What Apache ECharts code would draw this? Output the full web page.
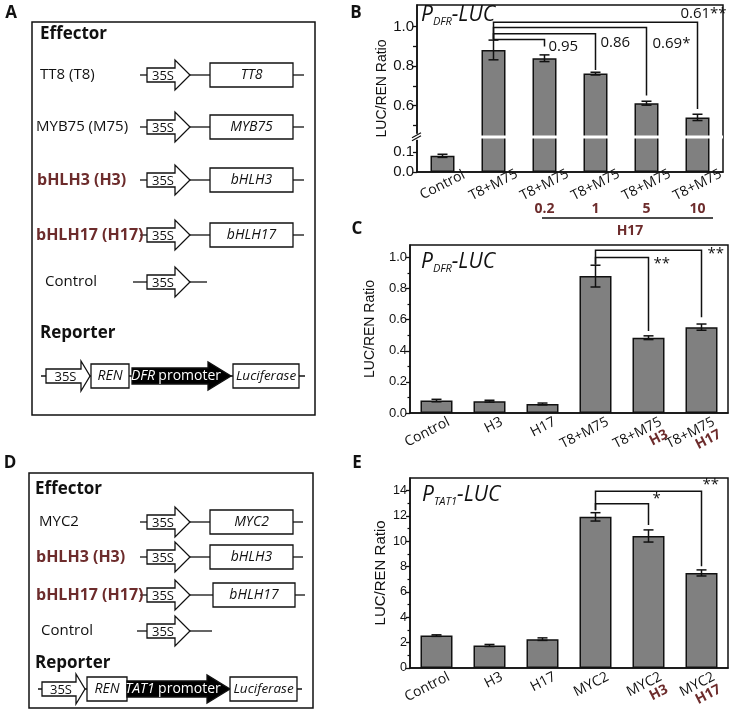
<!DOCTYPE html>
<html><head><meta charset="utf-8">
<script src="https://cdn.jsdelivr.net/npm/echarts@6/dist/echarts.min.js"></script>
<style>html,body{margin:0;padding:0;background:#fff}#c{width:735px;height:713px}</style>
</head><body><div id="c"></div>
<script>
const RED = '#6d2c2c';
const INK = '#111';
const SANS = "'Open Sans', 'DejaVu Sans', sans-serif";
const ARIAL = "'Liberation Sans', Arial, sans-serif";

// ---------- Panel B data ----------
const B_CATEGORIES = ['Control', 'T8+M75', 'T8+M75', 'T8+M75', 'T8+M75', 'T8+M75'];
const B_DOSE_LABELS = ['', '', '0.2', '1', '5', '10'];
const B_VALUES = [0.082, 0.882, 0.840, 0.762, 0.612, 0.540];
const B_ERRORS = [0.008, 0.050, 0.017, 0.007, 0.010, 0.016];
const B_Y_LABELS = [0, 0.1, 0.6, 0.8, 1.0];
const B_Y_TICKS = [0, 0.1, 0.5, 0.6, 0.7, 0.8, 0.9, 1.0];
const B_BREAK = [0.17, 0.45];
// [fromIndex, toIndex, bracketLevel, fromEnd, toEnd, text]
const B_BRACKETS = [
  [1, 2, 0.935, 0.935, 0.899, '0.95'],
  [1, 3, 0.964, 0.935, 0.780, '0.86'],
  [1, 4, 0.996, 0.935, 0.651, '0.69*'],
  [1, 5, 1.022, 0.935, 0.583, '0.61**']
];

// ---------- Panel C data ----------
const C_CATEGORIES = ['Control', 'H3', 'H17', 'T8+M75', 'T8+M75', 'T8+M75'];
const C_SUBLABELS = ['', '', '', '', 'H3', 'H17'];
const C_VALUES = [0.080, 0.076, 0.058, 0.880, 0.484, 0.552];
const C_ERRORS = [0.008, 0.006, 0.006, 0.070, 0.012, 0.020];
const C_Y_LABELS = [0, 0.2, 0.4, 0.6, 0.8, 1.0];
const C_BRACKETS = [
  [3, 4, 1.000, 0.955, 0.527, '**'],
  [3, 5, 1.047, 0.955, 0.615, '**']
];

// ---------- Panel E data ----------
const E_CATEGORIES = ['Control', 'H3', 'H17', 'MYC2', 'MYC2', 'MYC2'];
const E_SUBLABELS = ['', '', '', '', 'H3', 'H17'];
const E_VALUES = [2.55, 1.77, 2.27, 11.93, 10.42, 7.50];
const E_ERRORS = [0.06, 0.08, 0.10, 0.33, 0.48, 0.24];
const E_Y_LABELS = [0, 2, 4, 6, 8, 10, 12, 14];
const E_BRACKETS = [
  [3, 4, 12.97, 12.45, 11.28, '*'],
  [3, 5, 13.95, 12.45, 8.03, '**']
];

// label placement (layout only)
const B_LABEL_LAYOUT = [
  {dx: 4, dy: 0, align: 'left', va: 'top'},
  {dx: 5, dy: 1, align: 'left', va: 'top'},
  {dx: 6, dy: 9, align: 'left', va: 'top'},
  {dx: 6, dy: -1, align: 'center', va: 'bottom'}
];
const C_LABEL_LAYOUT = [
  {dx: 5, dy: -1, align: 'left', va: 'top'},
  {dx: 6, dy: -4, align: 'left', va: 'top'}
];
const E_LABEL_LAYOUT = [
  {dx: 4, dy: -12, align: 'left', va: 'top'},
  {dx: 1, dy: -14, align: 'left', va: 'top'}
];

function errorData(values, errors) {
  return values.map((v, i) => [i, v - errors[i], v + errors[i]]);
}
function errorRender(params, api) {
  const x = api.value(0);
  const lo = api.coord([x, api.value(1)]);
  const hi = api.coord([x, api.value(2)]);
  const w = 5;
  const st = {stroke: INK, lineWidth: 1.5};
  return {type: 'group', children: [
    {type: 'line', shape: {x1: hi[0], y1: hi[1], x2: lo[0], y2: lo[1]}, style: st},
    {type: 'line', shape: {x1: hi[0] - w, y1: hi[1], x2: hi[0] + w, y2: hi[1]}, style: st},
    {type: 'line', shape: {x1: lo[0] - w, y1: lo[1], x2: lo[0] + w, y2: lo[1]}, style: st}
  ]};
}
function bracketRender(brackets, layout, fontSize) {
  return function (params, api) {
    const k = params.dataIndex;
    const b = brackets[k];
    const a = api.coord([b[0], b[3]]);
    const p1 = api.coord([b[0], b[2]]);
    const p2 = api.coord([b[1], b[2]]);
    const c = api.coord([b[1], b[4]]);
    const L = layout[k];
    return {type: 'group', children: [
      {type: 'polyline', shape: {points: [a, p1, p2, c]}, style: {stroke: INK, lineWidth: 1.5, fill: null}},
      {type: 'text', x: c[0] + L.dx, y: p2[1] + L.dy,
       style: {text: b[5], fontSize: fontSize, fontFamily: SANS, fill: INK, align: L.align, verticalAlign: L.va}}
    ]};
  };
}
function bracketData(brackets) {
  return brackets.map(b => [b[0], b[1], b[2], b[3], b[4]]);
}

function catAxis(gridIndex, data, subs, centered) {
  const label = centered ? {
      interval: 0, rotate: 27, margin: 13, align: 'center', verticalAlign: 'middle',
      fontFamily: SANS, fontSize: 14, color: INK
    } : {
      interval: 0, rotate: 27, margin: 6, align: 'right', verticalAlign: 'top', padding: [0, -10, 0, 0],
      fontFamily: SANS, fontSize: 14, color: INK,
      formatter: function (v, i) {
        return subs && subs[i] ? '{m|' + v + '}\n{r|' + subs[i] + '}' : '{m|' + v + '}';
      },
      rich: {
        m: {fontFamily: SANS, fontSize: 14, color: INK, lineHeight: 15},
        r: {fontFamily: SANS, fontSize: 14, fontWeight: 'bold', color: RED, align: 'right', lineHeight: 13}
      }
    };
  return {
    type: 'category', gridIndex: gridIndex, data: data,
    axisLine: {lineStyle: {color: INK, width: 1.5}},
    axisTick: {show: false},
    axisLabel: label
  };
}

function valAxis(gridIndex, opt) {
  return Object.assign({
    type: 'value', gridIndex: gridIndex, min: 0,
    splitLine: {show: false},
    axisLine: {show: true, lineStyle: {color: INK, width: 1.5}},
    nameLocation: 'middle',
    nameTextStyle: {fontFamily: ARIAL, fontSize: 14, color: INK}
  }, opt);
}

function barSeries(xi, yi, values, width) {
  return {
    type: 'bar', xAxisIndex: xi, yAxisIndex: yi, data: values, barWidth: width,
    itemStyle: {color: '#808080', borderColor: INK, borderWidth: 1.5}, z: 3
  };
}
function errSeries(xi, yi, values, errors) {
  return {type: 'custom', xAxisIndex: xi, yAxisIndex: yi, data: errorData(values, errors),
    encode: {x: 0, y: [1, 2]}, renderItem: errorRender, z: 5, silent: true};
}
function brSeries(xi, yi, brackets, layout) {
  return {type: 'custom', xAxisIndex: xi, yAxisIndex: yi, data: bracketData(brackets),
    encode: {x: [0, 1], y: [2, 3, 4]}, renderItem: bracketRender(brackets, layout, 15), z: 6, silent: true, clip: false};
}

// ---------- Schematic helpers ----------
function lineEl(x1, y1, x2, y2, w) {
  return {type: 'line', shape: {x1, y1, x2, y2}, style: {stroke: INK, lineWidth: w || 1.3}};
}
function arrowEl(x0, xh, xt, cy, hb, hh, fill) {
  return {type: 'polygon', shape: {points: [[x0, cy - hb], [xh, cy - hb], [xh, cy - hh], [xt, cy], [xh, cy + hh], [xh, cy + hb], [x0, cy + hb]]},
    style: {fill: fill, stroke: INK, lineWidth: 1.3}};
}
function rectEl(x1, y1, x2, y2) {
  return {type: 'rect', shape: {x: x1, y: y1, width: x2 - x1, height: y2 - y1}, style: {fill: '#fff', stroke: INK, lineWidth: 1.3}};
}
function textEl(x, y, text, opt) {
  return {type: 'text', x: x, y: y, style: Object.assign({text: text, fontFamily: SANS, fontSize: 15, fill: INK, align: 'left', verticalAlign: 'middle'}, opt || {})};
}
function s35(x0, xh, xt, cy) {
  return [arrowEl(x0, xh, xt, cy, 7, 15, '#fff'), textEl((x0 + xh) / 2 + 2, cy + 1, '35S', {align: 'center', fontSize: 13})];
}
function effectorRow(cy, label, labelX, red, gene, bx1, bx2, tail) {
  const els = [lineEl(140, cy, 147, cy), lineEl(190, cy, bx1, cy), lineEl(bx2, cy, tail, cy)];
  els.push(...s35(147, 175, 190, cy));
  els.push(rectEl(bx1, cy - 12, bx2, cy + 12));
  els.push(textEl((bx1 + bx2) / 2, cy, gene, {align: 'center', fontStyle: 'italic', fontSize: 14}));
  els.push(textEl(labelX, cy, label, red ? {fill: RED, fontWeight: 'bold', fontSize: 16} : {}));
  return els;
}
function controlRow(cy, labelX, l0, tail) {
  const els = [lineEl(l0, cy, 147, cy), lineEl(190, cy, tail, cy)];
  els.push(...s35(147, 175, 190, cy));
  els.push(textEl(labelX, cy, 'Control'));
  return els;
}
function reporterRow(cy, x, promoterName) {
  const els = [lineEl(x.l0, cy, x.l1, cy)];
  els.push(...s35(x.a0, x.ah, x.at, cy));
  els.push(rectEl(x.r0, cy - 12, x.r1, cy + 12));
  els.push(textEl((x.r0 + x.r1) / 2, cy, 'REN', {align: 'center', fontStyle: 'italic', fontSize: 14}));
  els.push(arrowEl(x.p0, x.ph, x.pt, cy, 8, 14, '#000'));
  els.push({type: 'text', x: (x.p0 + x.ph) / 2 + 6, y: cy, style: {
    text: '{i|' + promoterName + '} {n|promoter}', align: 'center', verticalAlign: 'middle',
    rich: {i: {fontFamily: SANS, fontStyle: 'italic', fontSize: 14, fill: '#fff', color: '#fff'},
           n: {fontFamily: SANS, fontSize: 14, fill: '#fff', color: '#fff'}}}});
  els.push(rectEl(x.u0, cy - 12, x.u1, cy + 12));
  els.push(textEl((x.u0 + x.u1) / 2, cy, 'Luciferase', {align: 'center', fontStyle: 'italic', fontSize: 13.5}));
  return els;
}

const graphics = [];
// Panel letters
[['A', 11, 13], ['B', 356, 13], ['C', 357, 229], ['D', 10, 463], ['E', 357, 463]].forEach(p => {
  graphics.push(textEl(p[1], p[2], p[0], {fontFamily: SANS, fontWeight: 'bold', fontSize: 17, align: 'center'}));
});
// Panel A
graphics.push({type: 'rect', shape: {x: 32, y: 22, width: 283, height: 393}, style: {fill: 'none', stroke: INK, lineWidth: 1.5}});
graphics.push(textEl(40, 34, 'Effector', {fontWeight: 'bold', fontSize: 17}));
graphics.push(...effectorRow(75, 'TT8 (T8)', 40, false, 'TT8', 210, 293, 304));
graphics.push(...effectorRow(127, 'MYB75 (M75)', 36, false, 'MYB75', 210, 293, 304));
graphics.push(...effectorRow(180, 'bHLH3 (H3)', 37, true, 'bHLH3', 210, 293, 304));
graphics.push(...effectorRow(235, 'bHLH17 (H17)', 36, true, 'bHLH17', 210, 293, 304));
graphics.push(...controlRow(282, 45, 133, 207));
graphics.push(textEl(40, 333, 'Reporter', {fontWeight: 'bold', fontSize: 17}));
graphics.push(...reporterRow(376, {l0: 41, l1: 305, a0: 46, ah: 81, at: 90, r0: 91, r1: 129, p0: 132, ph: 208, pt: 231, u0: 233, u1: 299}, 'DFR'));
// Panel D
graphics.push({type: 'rect', shape: {x: 29, y: 473, width: 284, height: 235}, style: {fill: 'none', stroke: INK, lineWidth: 1.5}});
graphics.push(textEl(35, 489, 'Effector', {fontWeight: 'bold', fontSize: 17}));
graphics.push(...effectorRow(522, 'MYC2', 39, false, 'MYC2', 210, 293, 303));
graphics.push(...effectorRow(557, 'bHLH3 (H3)', 36, true, 'bHLH3', 210, 293, 303));
graphics.push(...effectorRow(595, 'bHLH17 (H17)', 36, true, 'bHLH17', 213, 295, 305));
graphics.push(...controlRow(631, 41, 137, 212));
graphics.push(textEl(35, 663, 'Reporter', {fontWeight: 'bold', fontSize: 17}));
graphics.push(...reporterRow(689, {l0: 38, l1: 302, a0: 42, ah: 76, at: 85, r0: 87, r1: 127, p0: 127, ph: 207, pt: 230, u0: 230, u1: 297}, 'TAT1'));
// Panel B H17 dose bracket
graphics.push(lineEl(542, 218, 713, 218, 1.5));
graphics.push(textEl(630, 231, 'H17', {align: 'center', fontWeight: 'bold', fill: RED, fontSize: 14}));

function titleRich(main, sub, left, top) {
  return {
    left: left, top: top, padding: 0,
    text: '{p|' + main + '}{s|' + sub + '}{p|-LUC}',
    textStyle: {fontWeight: 'normal', rich: {
      p: {fontFamily: SANS, fontStyle: 'italic', fontWeight: 'normal', fontSize: 21, color: INK, lineHeight: 24},
      s: {fontFamily: SANS, fontStyle: 'italic', fontWeight: 'normal', fontSize: 11, color: INK, lineHeight: 11, verticalAlign: 'bottom'}
    }}
  };
}

const option = {
  animation: false,
  backgroundColor: '#fff',
  title: [titleRich('P', 'DFR', 421, 3), titleRich('P', 'DFR', 421, 250), titleRich('P', 'TAT1', 422, 483)],
  grid: [
    {left: 417, top: 5, width: 306, height: 167, show: true, borderColor: INK, borderWidth: 1.5},
    {left: 410, top: 245, width: 318, height: 168, show: true, borderColor: INK, borderWidth: 1.5},
    {left: 410, top: 478, width: 318, height: 193, show: true, borderColor: INK, borderWidth: 1.5}
  ],
  xAxis: [
    catAxis(0, B_CATEGORIES, null, true),
    {type: 'category', gridIndex: 0, data: B_DOSE_LABELS, position: 'bottom', offset: 22,
     axisLine: {show: false}, axisTick: {show: false},
     axisLabel: {interval: 0, margin: 8, fontFamily: SANS, fontSize: 14, fontWeight: 'bold', color: RED}},
    catAxis(1, C_CATEGORIES, C_SUBLABELS, false),
    catAxis(2, E_CATEGORIES, E_SUBLABELS, false)
  ],
  yAxis: [
    valAxis(0, {
      max: 1.11, interval: 0.1,
      breaks: [{start: B_BREAK[0], end: B_BREAK[1], gap: '2%'}],
      breakArea: {show: true, itemStyle: {color: '#fff', borderColor: '#fff', borderWidth: 0, opacity: 1},
                  zigzagAmplitude: 0, zigzagZ: 100, expandOnClick: false},
      name: 'LUC/REN Ratio', nameGap: 28,
      axisTick: {show: true, length: 4, customValues: B_Y_TICKS, lineStyle: {color: INK, width: 1.3}},
      axisLabel: {customValues: B_Y_LABELS, fontFamily: ARIAL, fontSize: 15, color: INK, margin: 3,
                  formatter: v => Number(v).toFixed(1)}
    }),
    valAxis(1, {
      max: 1.08, interval: 0.2,
      name: 'LUC/REN Ratio', nameGap: 33,
      axisTick: {show: true, length: 4, customValues: C_Y_LABELS, lineStyle: {color: INK, width: 1.3}},
      minorTick: {show: true, splitNumber: 2, length: 2.5, lineStyle: {color: INK, width: 1.2}},
      axisLabel: {customValues: C_Y_LABELS, fontFamily: ARIAL, fontSize: 13, color: INK, margin: 3,
                  formatter: v => Number(v).toFixed(1)}
    }),
    valAxis(2, {
      max: 15, interval: 2,
      name: 'LUC/REN Ratio', nameGap: 22, nameTextStyle: {fontFamily: ARIAL, fontSize: 15, color: INK},
      axisTick: {show: true, length: 4, customValues: E_Y_LABELS, lineStyle: {color: INK, width: 1.3}},
      minorTick: {show: true, splitNumber: 2, length: 2.5, lineStyle: {color: INK, width: 1.2}},
      axisLabel: {customValues: E_Y_LABELS, fontFamily: ARIAL, fontSize: 12.5, color: INK, margin: 3}
    })
  ],
  series: [
    barSeries(0, 0, B_VALUES, 24), errSeries(0, 0, B_VALUES, B_ERRORS), brSeries(0, 0, B_BRACKETS, B_LABEL_LAYOUT),
    barSeries(2, 1, C_VALUES, 32), errSeries(2, 1, C_VALUES, C_ERRORS), brSeries(2, 1, C_BRACKETS, C_LABEL_LAYOUT),
    barSeries(3, 2, E_VALUES, 32), errSeries(3, 2, E_VALUES, E_ERRORS), brSeries(3, 2, E_BRACKETS, E_LABEL_LAYOUT)
  ],
  graphic: {elements: graphics}
};

const chart = echarts.init(document.getElementById('c'), null, {renderer: 'canvas'});
chart.setOption(option);

// "//" break marker on the left axis of panel B, placed through the axis scale
const pLow = chart.convertToPixel({xAxisIndex: 0, yAxisIndex: 0}, [0, B_BREAK[0]]);
const pHigh = chart.convertToPixel({xAxisIndex: 0, yAxisIndex: 0}, [0, B_BREAK[1]]);
if (pLow && pHigh && isFinite(pLow[1]) && isFinite(pHigh[1])) {
  const ym = (pLow[1] + pHigh[1]) / 2;
  const ax = 417;
  graphics.push({type: 'rect', shape: {x: ax - 2, y: ym - 3, width: 4, height: 6}, style: {fill: '#fff'}, z: 200});
  graphics.push(Object.assign(lineEl(ax - 5, ym + 1, ax + 4, ym - 4, 1.2), {z: 201}));
  graphics.push(Object.assign(lineEl(ax - 5, ym + 4, ax + 4, ym - 1, 1.2), {z: 201}));
  chart.setOption({graphic: {elements: graphics}});
}
</script>
</body></html>
